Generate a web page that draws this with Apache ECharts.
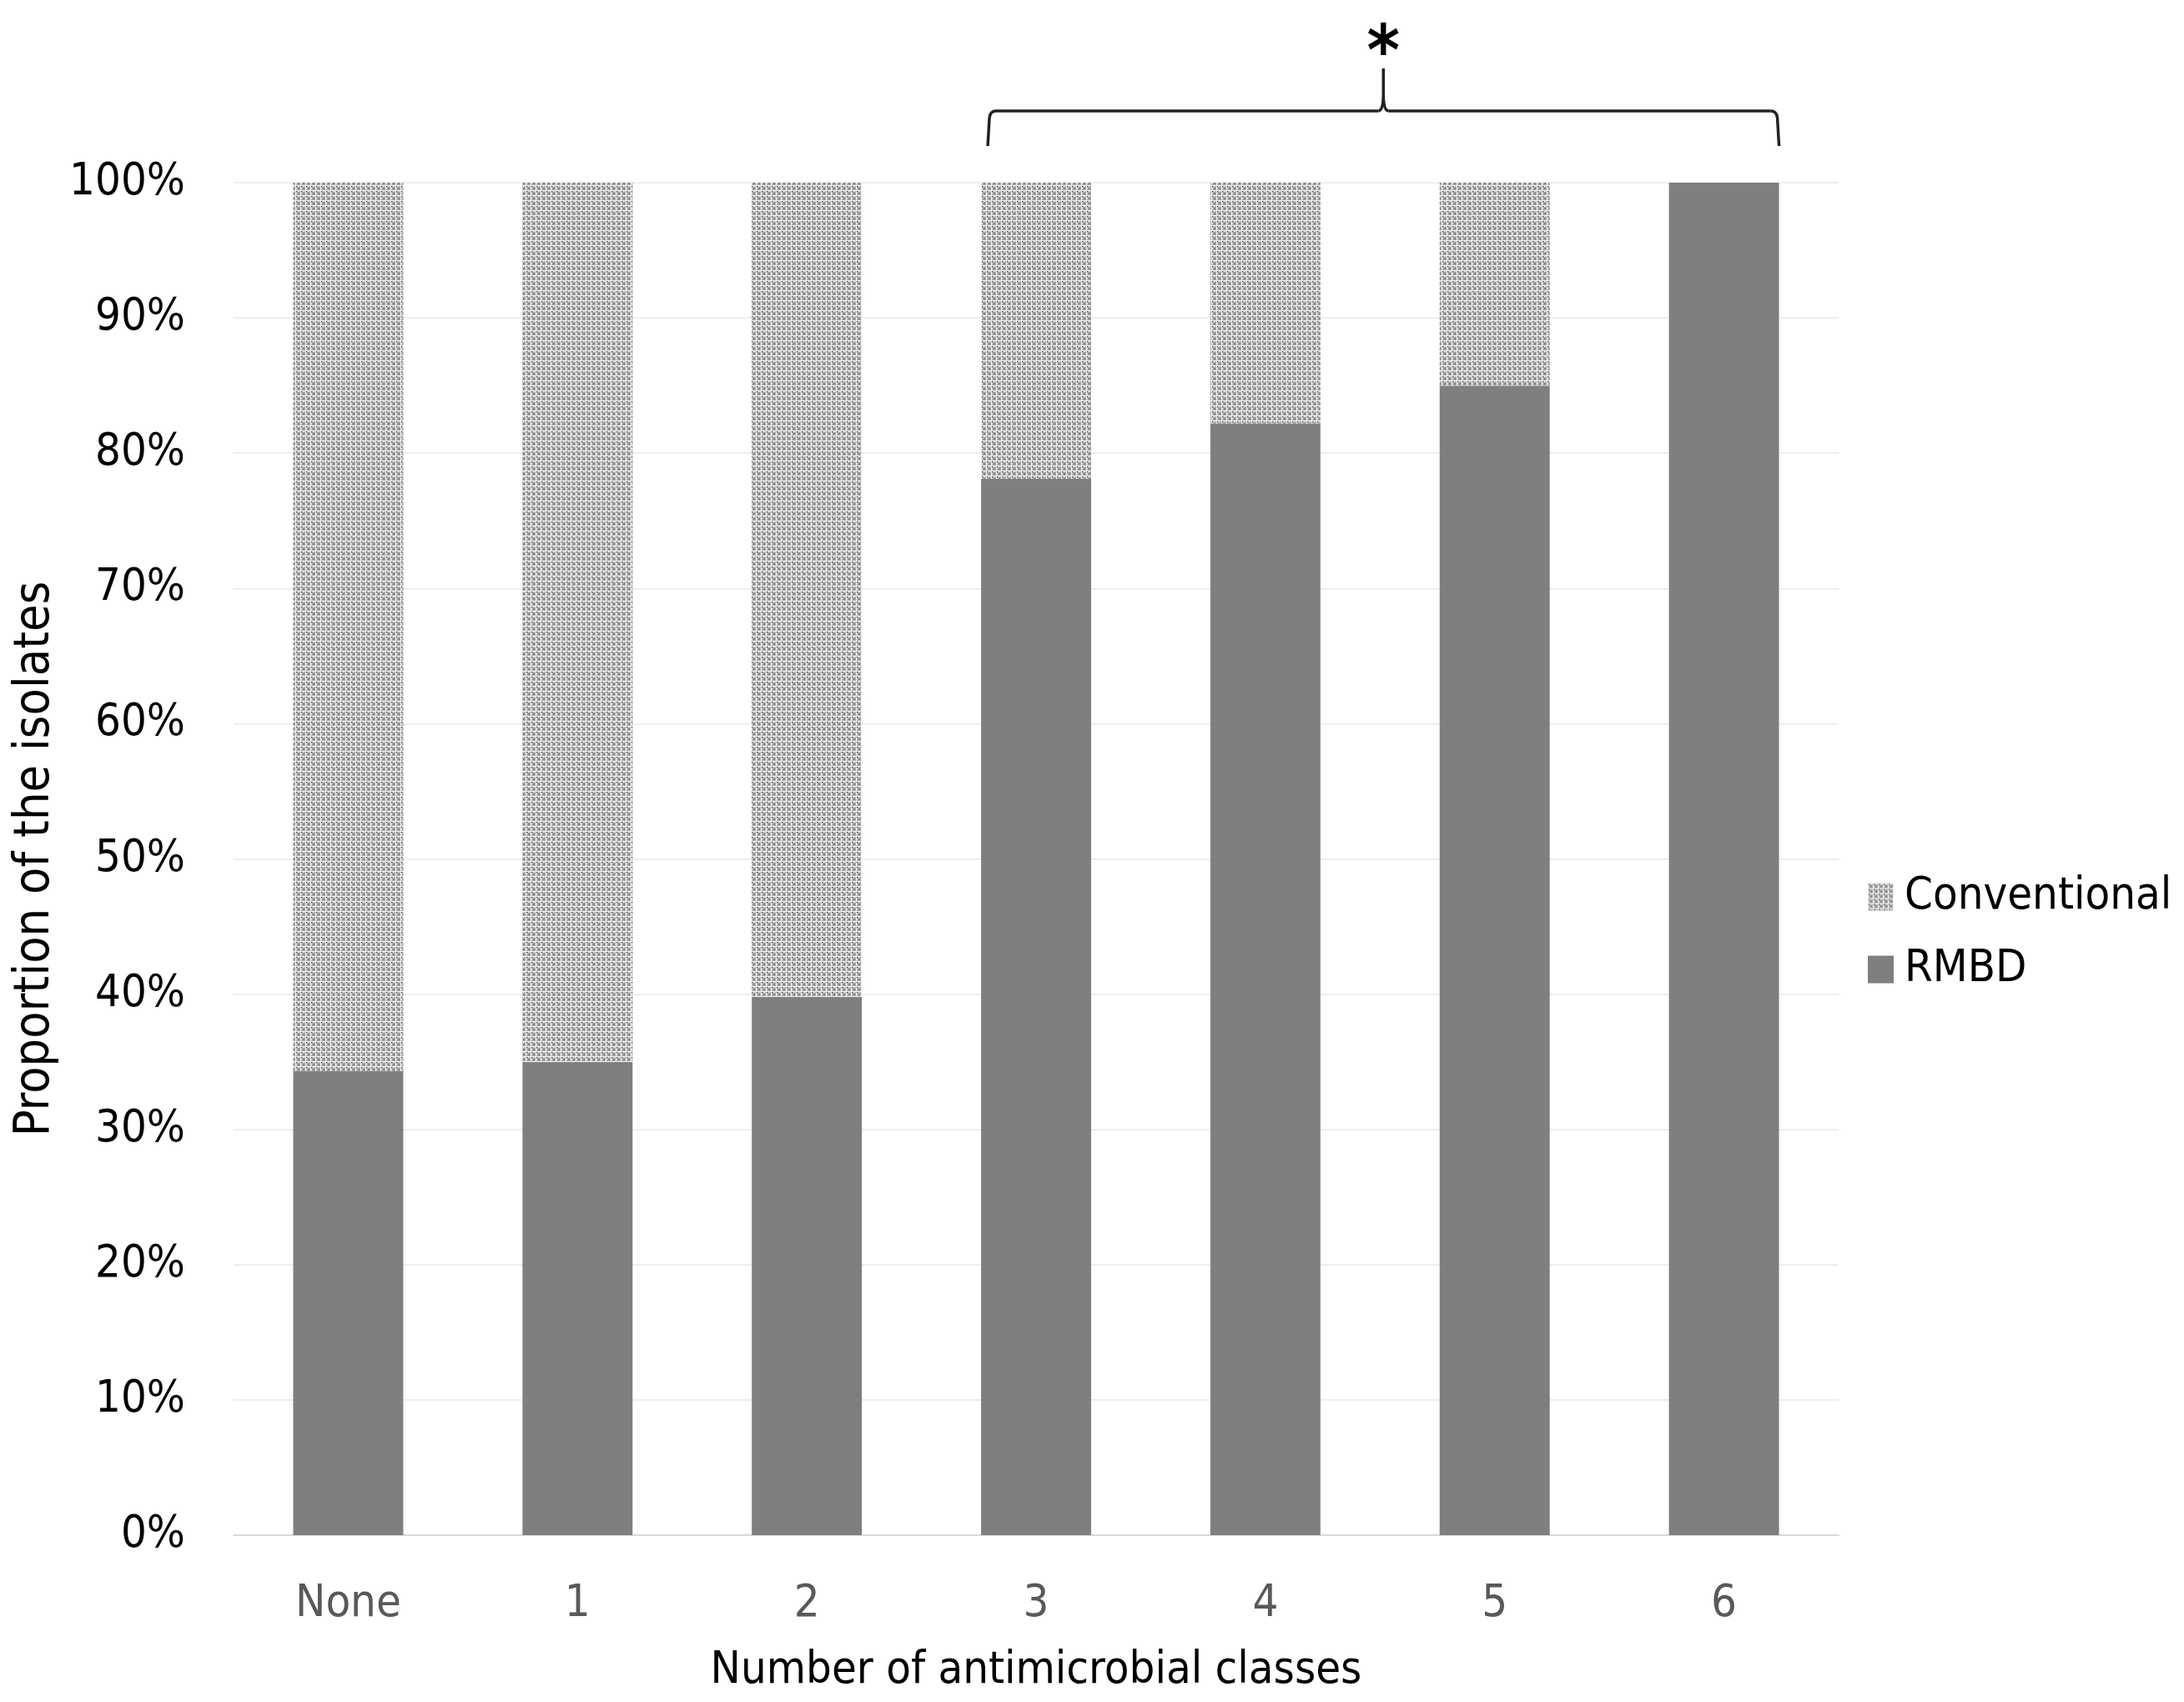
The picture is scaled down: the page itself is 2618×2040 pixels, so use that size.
<!DOCTYPE html>
<html>
<head>
<meta charset="utf-8">
<script src="https://cdn.jsdelivr.net/npm/echarts@6/dist/echarts.min.js"></script>
<style>
html,body{margin:0;padding:0;background:#fff;}
#chart{width:2618px;height:2040px;}
</style>
</head>
<body>
<div id="chart"></div>
<script>
const categories = ['None', '1', '2', '3', '4', '5', '6'];
const rmbd = [34.3, 35.0, 39.8, 78.1, 82.2, 85.0, 100];
const conventional = [65.7, 65.0, 60.2, 21.9, 17.8, 15.0, 0];
const seriesNames = ['Conventional', 'RMBD'];
const bracketFrom = '3';
const bracketTo = '6';
const bracketLabel = '*';

const FONT = "'DejaVu Sans Condensed', 'Liberation Sans Narrow', sans-serif";
const FS = 54;

// dotted pattern tile
const tile = document.createElement('canvas');
tile.width = 6; tile.height = 6;
const g = tile.getContext('2d');
g.fillStyle = '#f2f2f2'; g.fillRect(0, 0, 6, 6);
g.fillStyle = '#aaaaaa'; g.fillRect(1, 1, 5, 5);
g.fillStyle = '#848484'; g.fillRect(3, 3, 2, 2);
g.fillStyle = '#d0d0d0'; g.fillRect(1, 3, 1, 2); g.fillRect(3, 1, 2, 1);
g.fillStyle = '#262626'; g.fillRect(1, 1, 1, 1);
const patternColor = { image: tile, repeat: 'repeat' };

const chart = echarts.init(document.getElementById('chart'), null, { renderer: 'canvas' });
const BAR_RATIO = 0.48;
const option = {
  animation: false,
  backgroundColor: '#ffffff',
  textStyle: { fontFamily: FONT },
  grid: { left: 280, right: 414, top: 219, bottom: 200, containLabel: false, outerBoundsMode: 'none' },
  legend: {
    orient: 'vertical',
    left: 2234,
    top: 1043,
    itemWidth: 31,
    itemHeight: 33,
    itemGap: 33,
    icon: 'rect',
    data: seriesNames,
    textStyle: { fontFamily: FONT, fontSize: FS, color: '#000', lineHeight: 54, padding: [0, 0, 0, 8] }
  },
  xAxis: {
    type: 'category',
    data: categories,
    name: 'Number of antimicrobial classes',
    nameLocation: 'middle',
    nameGap: 136,
    nameTextStyle: { fontFamily: FONT, fontSize: FS, color: '#000' },
    axisTick: { show: false },
    axisLine: { lineStyle: { color: '#d9d9d9', width: 2 } },
    axisLabel: { fontFamily: FONT, fontSize: FS, color: '#595959', margin: 56 }
  },
  yAxis: {
    type: 'value',
    min: 0, max: 100, interval: 10,
    name: 'Proportion of the isolates',
    nameLocation: 'middle',
    nameGap: 184,
    nameTextStyle: { fontFamily: FONT, fontSize: 59, color: '#000' },
    axisLine: { show: false },
    axisTick: { show: false },
    splitLine: { lineStyle: { color: '#eeeeee', width: 2 } },
    axisLabel: { fontFamily: FONT, fontSize: FS, color: '#000', margin: 58, formatter: '{value}%' }
  },
  series: [
    {
      name: 'RMBD', type: 'bar', stack: 'total', data: rmbd,
      barWidth: (BAR_RATIO * 100) + '%',
      itemStyle: { color: '#7f7f7f' }
    },
    {
      name: 'Conventional', type: 'bar', stack: 'total', data: conventional,
      barWidth: (BAR_RATIO * 100) + '%',
      itemStyle: { color: patternColor }
    }
  ]
};
chart.setOption(option);

// bracket annotation over categories bracketFrom..bracketTo
function drawBracket() {
  const i0 = categories.indexOf(bracketFrom), i1 = categories.indexOf(bracketTo);
  const c0 = chart.convertToPixel({ xAxisIndex: 0 }, i0);
  const c1 = chart.convertToPixel({ xAxisIndex: 0 }, i1);
  const step = chart.convertToPixel({ xAxisIndex: 0 }, 1) - chart.convertToPixel({ xAxisIndex: 0 }, 0);
  const half = step * BAR_RATIO / 2;
  const x0 = c0 - half + 8, x1 = c1 + half;
  const yTop100 = chart.convertToPixel({ yAxisIndex: 0 }, 100);
  const yEnd = yTop100 - 44, yBar = yTop100 - 86, yTip = yTop100 - 137;
  const xm = (x0 + x1) / 2;
  const st = { stroke: '#222', lineWidth: 3.5, fill: null };
  const els = [
    { type: 'line', shape: { x1: x0, y1: yEnd, x2: x0 + 2, y2: yBar + 8 }, style: st },
    { type: 'bezierCurve', shape: { x1: x0 + 2, y1: yBar + 8, cpx1: x0 + 3, cpy1: yBar, x2: x0 + 10, y2: yBar }, style: st },
    { type: 'line', shape: { x1: x0 + 10, y1: yBar, x2: xm - 6, y2: yBar }, style: st },
    { type: 'bezierCurve', shape: { x1: xm - 6, y1: yBar, cpx1: xm - 1, cpy1: yBar, x2: xm, y2: yBar - 16 }, style: st },
    { type: 'line', shape: { x1: xm, y1: yBar - 16, x2: xm, y2: yTip }, style: st },
    { type: 'bezierCurve', shape: { x1: xm + 6, y1: yBar, cpx1: xm + 1, cpy1: yBar, x2: xm, y2: yBar - 16 }, style: st },
    { type: 'line', shape: { x1: xm + 6, y1: yBar, x2: x1 - 10, y2: yBar }, style: st },
    { type: 'bezierCurve', shape: { x1: x1 - 10, y1: yBar, cpx1: x1 - 3, cpy1: yBar, x2: x1 - 2, y2: yBar + 8 }, style: st },
    { type: 'line', shape: { x1: x1 - 2, y1: yBar + 8, x2: x1, y2: yEnd }, style: st },
    { type: 'text', x: xm, y: yTop100 - 152, style: { text: bracketLabel, font: `bold 84px ${FONT}`, fill: '#000', textAlign: 'center', textVerticalAlign: 'middle' } }
  ];
  chart.setOption({ graphic: els });
}
drawBracket();
</script>
</body>
</html>
